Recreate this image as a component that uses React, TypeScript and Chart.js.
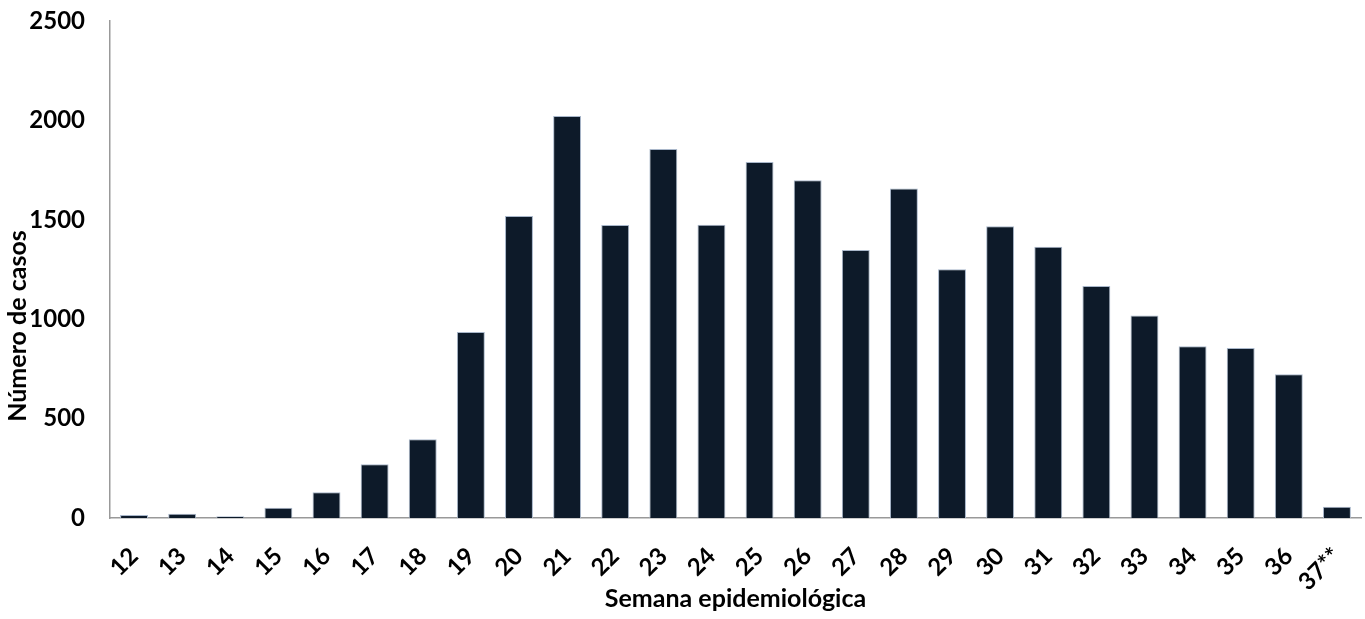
import { useEffect, useRef } from "react";
import { Chart, registerables } from "chart.js";

Chart.register(...registerables);

const weeks = ["12", "13", "14", "15", "16", "17", "18", "19", "20", "21", "22", "23", "24", "25", "26", "27", "28", "29", "30", "31", "32", "33", "34", "35", "36", "37**"];
const cases = [15, 22, 9, 52, 129, 270, 396, 936, 1519, 2022, 1474, 1856, 1475, 1791, 1699, 1348, 1657, 1251, 1467, 1365, 1167, 1018, 864, 855, 723, 57];
const yTicks = [0, 500, 1000, 1500, 2000, 2500];
const xTitle = "Semana epidemiológica";
const yTitle = "Número de casos";

const FONT_FAMILY = "Lato, 'Open Sans', sans-serif";
const TICK_SIZE = 24;
const TITLE_SIZE = 25;

const yTitlePlugin = {
  id: "yTitlePlugin",
  afterDraw(chart: any) {
    const ctx = chart.ctx;
    ctx.save();
    ctx.translate(18, 326);
    ctx.rotate(-Math.PI / 2);
    ctx.textAlign = "center";
    ctx.textBaseline = "middle";
    ctx.fillStyle = "#000";
    ctx.font = `bold ${TITLE_SIZE}px ${FONT_FAMILY}`;
    ctx.fillText(yTitle, 0, 0);
    ctx.restore();
  },
};

export default function App() {
  const canvasRef = useRef<HTMLCanvasElement | null>(null);

  useEffect(() => {
    if (!canvasRef.current) return;
    const tickFont = { family: FONT_FAMILY, size: TICK_SIZE, weight: "bold" as const };
    const titleFont = { family: FONT_FAMILY, size: TITLE_SIZE, weight: "bold" as const };
    const chart = new Chart(canvasRef.current, {
      type: "bar",
      data: {
        labels: weeks,
        datasets: [
          {
            data: cases,
            backgroundColor: "#0d1a29",
            borderColor: "#a9b7ca",
            borderWidth: 1,
            categoryPercentage: 1,
            barPercentage: 0.58,
          },
        ],
      },
      options: {
        animation: false,
        responsive: true,
        maintainAspectRatio: false,
        layout: { padding: { top: 21, right: 4, left: 0, bottom: 0 } },
        plugins: { legend: { display: false }, tooltip: { enabled: false } },
        scales: {
          x: {
            grid: { display: false, drawTicks: false },
            border: { display: true, color: "#999999", width: 1.5 },
            ticks: {
              minRotation: 45,
              maxRotation: 45,
              autoSkip: false,
              padding: 24,
              color: "#000",
              font: tickFont,
            },
            title: {
              display: true,
              text: xTitle,
              color: "#000",
              font: titleFont,
              padding: { top: 0, bottom: 5 },
            },
            afterFit: (s: any) => {
              s.height = 101;
              s.paddingLeft = 0;
              s.paddingRight = 0;
            },
          },
          y: {
            min: 0,
            max: 2500,
            grid: { display: false, drawTicks: false },
            border: { display: true, color: "#999999", width: 1.5 },
            ticks: {
              padding: 25,
              color: "#000",
              font: tickFont,
              callback: (v: any) => String(v),
            },
            afterBuildTicks: (s: any) => {
              s.ticks = yTicks.map((v) => ({ value: v }));
            },
            afterFit: (s: any) => {
              s.width = 110;
              s.paddingTop = 0;
              s.paddingBottom = 0;
            },
          },
        },
      },
      plugins: [yTitlePlugin],
    });
    return () => chart.destroy();
  }, []);

  return (
    <div style={{ position: "fixed", left: 0, top: 0, width: 1365, height: 619, background: "#fff" }}>
      <canvas ref={canvasRef} />
    </div>
  );
}
